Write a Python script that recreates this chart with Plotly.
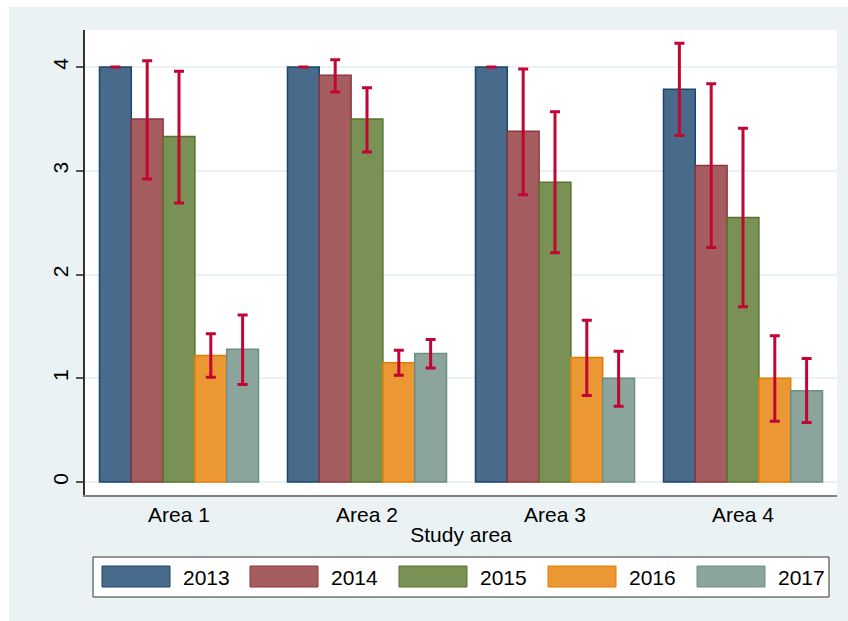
import plotly.graph_objects as go

areas = ["Area 1", "Area 2", "Area 3", "Area 4"]
years = ["2013", "2014", "2015", "2016", "2017"]

mean_2013 = [4.00, 4.00, 4.00, 3.785]
lo_2013 = [4.00, 4.00, 4.00, 3.34]
hi_2013 = [4.00, 4.00, 4.00, 4.23]

mean_2014 = [3.50, 3.92, 3.38, 3.05]
lo_2014 = [2.92, 3.76, 2.77, 2.26]
hi_2014 = [4.06, 4.07, 3.98, 3.84]

mean_2015 = [3.33, 3.50, 2.89, 2.55]
lo_2015 = [2.69, 3.18, 2.21, 1.69]
hi_2015 = [3.96, 3.80, 3.57, 3.41]

mean_2016 = [1.22, 1.15, 1.20, 1.00]
lo_2016 = [1.01, 1.03, 0.835, 0.585]
hi_2016 = [1.43, 1.27, 1.56, 1.41]

mean_2017 = [1.28, 1.24, 1.00, 0.88]
lo_2017 = [0.94, 1.10, 0.73, 0.575]
hi_2017 = [1.61, 1.375, 1.26, 1.19]

y_ticks = [0, 1, 2, 3, 4]
x_title = "Study area"

means = [mean_2013, mean_2014, mean_2015, mean_2016, mean_2017]
los = [lo_2013, lo_2014, lo_2015, lo_2016, lo_2017]
his = [hi_2013, hi_2014, hi_2015, hi_2016, hi_2017]

fills = ["#486A8B", "#A55D60", "#7A9156", "#EA9734", "#8BA59C"]
lines = ["#1A476F", "#90353B", "#55752F", "#E37E00", "#6E8E84"]
err_color = "#C10534"
bg = "#EAF2F3"
FONT = "Liberation Sans, Arial, sans-serif"
FS = 21

W, H = 848, 621
L, R, T, B = 85, 837, 30, 495

fig = go.Figure()
for i, yr in enumerate(years):
    m = means[i]
    plus = [h - v for h, v in zip(his[i], m)]
    minus = [v - l for v, l in zip(m, los[i])]
    fig.add_trace(go.Bar(
        x=areas, y=m, name=yr,
        marker=dict(color=fills[i], line=dict(color=lines[i], width=1.5)),
        error_y=dict(type="data", array=plus, arrayminus=minus, symmetric=False,
                     color=err_color, thickness=3, width=5),
        showlegend=False,
    ))

def px(x):
    return (x - L) / (R - L)

def py(y):
    return (B - y) / (B - T)

shapes = []
# white strips along top and left edge
shapes.append(dict(type="rect", xref="paper", yref="paper", x0=px(0), x1=px(W), y0=py(0), y1=py(7),
                   fillcolor="white", line=dict(width=0), layer="below"))
shapes.append(dict(type="rect", xref="paper", yref="paper", x0=px(0), x1=px(9), y0=py(0), y1=py(H),
                   fillcolor="white", line=dict(width=0), layer="below"))
# legend box
shapes.append(dict(type="rect", xref="paper", yref="paper", x0=px(93), x1=px(829), y0=py(557), y1=py(597),
                   fillcolor="white", line=dict(color="#333333", width=1)))
annotations = []
sw_x = [102, 250, 399, 548, 697]
for i, yr in enumerate(years):
    x0 = sw_x[i]
    shapes.append(dict(type="rect", xref="paper", yref="paper", x0=px(x0), x1=px(x0 + 68),
                       y0=py(566), y1=py(587), fillcolor=fills[i],
                       line=dict(color=lines[i], width=1)))
    annotations.append(dict(xref="paper", yref="paper", x=px(x0 + 79), y=py(577), text=yr,
                            showarrow=False, xanchor="left", yanchor="middle",
                            font=dict(family=FONT, size=FS, color="black")))

fig.update_layout(
    width=W, height=H,
    margin=dict(l=L, r=W - R, t=T, b=H - B, pad=0),
    paper_bgcolor=bg, plot_bgcolor="white",
    barmode="group", bargap=0.154, bargroupgap=0,
    font=dict(family=FONT, size=FS, color="black"),
    shapes=shapes, annotations=annotations,
    xaxis=dict(
        type="category", range=[-0.5, 3.5],
        showline=True, linecolor="#7f7f7f", linewidth=2,
        ticks="", showgrid=False,
        tickfont=dict(family=FONT, size=FS, color="black"),
        title=dict(text=x_title, font=dict(family=FONT, size=FS, color="black"), standoff=2),
    ),
    yaxis=dict(
        range=[-0.125, 4.357], tickvals=y_ticks, ticktext=[str(v) for v in y_ticks],
        tickangle=-90, ticks="outside", ticklen=7, tickcolor="#555555", tickwidth=1.5,
        showline=True, linecolor="#333333", linewidth=1.5,
        showgrid=True, gridcolor=bg, gridwidth=2, zeroline=False,
        tickfont=dict(family=FONT, size=FS, color="black"),
    ),
)

fig.write_html("out.html", config={"displayModeBar": False},
               post_script="document.body.style.margin='0';")
